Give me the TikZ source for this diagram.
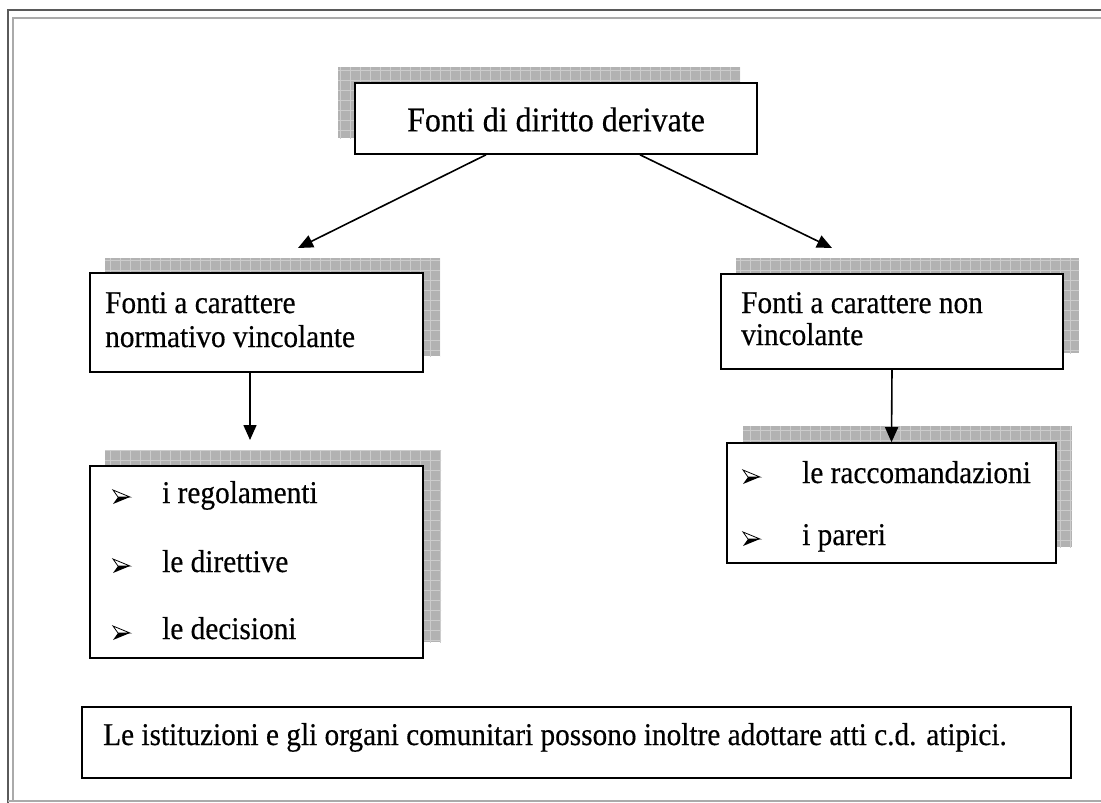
\documentclass[tikz,border=0pt]{standalone}
\usepackage{fontspec}
\usepackage{graphicx}
\setmainfont[FakeBold=0.4]{Liberation Serif}
\usetikzlibrary{arrows.meta}

\definecolor{shadefill}{RGB}{178,178,178}
\definecolor{shadegrid}{RGB}{204,204,204}
\definecolor{frameouter}{RGB}{90,90,90}
\definecolor{frameinner}{RGB}{170,170,170}

% slightly tall setting of the box texts
\newcommand\stretchtxt[1]{\scalebox{1}[1.08]{#1}}

\tikzset{
  box/.style={draw=black, line width=1.6pt, fill=white, rectangle, inner sep=0pt},
  shade/.style={fill=shadefill, path picture={
      \draw[shadegrid, line width=0.8pt]
        ([xshift=-10pt,yshift=-10pt]path picture bounding box.south west) grid[step=10pt]
        ([xshift=10pt,yshift=10pt]path picture bounding box.north east);}},
  label/.style={anchor=base west, inner sep=0pt, font=\fontsize{29.3}{34}\selectfont},
  link/.style={line width=1.6pt, -{Triangle[length=15pt,width=13pt]}},
  % three-dimensional arrowhead bullet: light upper facet, dark lower facet
  arrowbullet/.pic={
    \filldraw[fill=white, draw=black, line width=0.8pt, line join=miter]
      (0,-14) -- (17,-7) -- (5,-7) -- cycle;
    \fill[black] (5,-7) -- (17,-7) -- (0,0) -- cycle;
  },
}

\begin{document}
\begin{tikzpicture}[x=1pt, y=-1pt]
  \useasboundingbox (0,0) rectangle (1101,803);

  % page frame: dark outer rule, light inner rule
  \draw[frameouter, line width=1.8pt] (1101,10) -- (8,10) -- (8,803);
  \draw[frameinner, line width=1.2pt] (1101,18) -- (13,18) -- (13,801);
  \draw[frameinner, line width=1.2pt] (8,801) -- (1101,801);

  % hatched drop shadows
  \path[shade] (338,67) rectangle (740,138);
  \path[shade] (105,258) rectangle (440,356);
  \path[shade] (736,258) rectangle (1079,353);
  \path[shade] (105,450) rectangle (441,642);
  \path[shade] (743,426) rectangle (1072,547);

  % boxes
  \node[box, minimum width=402pt, minimum height=71pt] (top) at (556,118.5) {};
  \node[box, minimum width=333pt, minimum height=99pt] (ml) at (256.5,322.5) {};
  \node[box, minimum width=342pt, minimum height=95pt] (mr) at (892,321.5) {};
  \node[box, minimum width=333pt, minimum height=192pt] (ll) at (256.5,562) {};
  \node[box, minimum width=329pt, minimum height=120pt] (lr) at (891.5,503) {};
  \node[box, minimum width=989pt, minimum height=71pt] (note) at (576.5,742.5) {};

  % texts
  \node[inner sep=0pt, font=\fontsize{32}{38}\selectfont] (topText) at ([yshift=-1pt]top.center)
    {\stretchtxt{Fonti di diritto derivate}};

  \node[label] (ml1) at (105,313) {\stretchtxt{Fonti a carattere}};
  \node[label] (ml2) at (105,347) {\stretchtxt{normativo vincolante}};

  \node[label] (mr1) at (741,313) {\stretchtxt{Fonti a carattere non}};
  \node[label] (mr2) at (741,345) {\stretchtxt{vincolante}};

  \pic at (113,504) {arrowbullet};
  \node[label] (ll1) at (162,503) {\stretchtxt{i regolamenti}};
  \pic at (113,573) {arrowbullet};
  \node[label] (ll2) at (162,572) {\stretchtxt{le direttive}};
  \pic at (113,640) {arrowbullet};
  \node[label] (ll3) at (162,639) {\stretchtxt{le decisioni}};

  \pic at (743,484) {arrowbullet};
  \node[label] (lr1) at (802,483) {\stretchtxt{le raccomandazioni}};
  \pic at (743,546) {arrowbullet};
  \node[label] (lr2) at (802,545) {\stretchtxt{i pareri}};

  \node[label] (noteText) at (103,745)
    {\stretchtxt{Le istituzioni e gli organi comunitari possono inoltre adottare atti c.d. atipici.}};

  % connectors
  \coordinate (mlTip) at (298,248);
  \coordinate (mrTip) at (832,248);
  \coordinate (llTip) at (250,440);
  \draw[link] ([xshift=-70pt]top.south) -- (mlTip);
  \draw[link] ([xshift=84pt]top.south) -- (mrTip);
  \draw[link] ([xshift=-6.5pt]ml.south) -- (llTip);
  \draw[link] (mr.south) -- (lr.north);
\end{tikzpicture}
\end{document}
